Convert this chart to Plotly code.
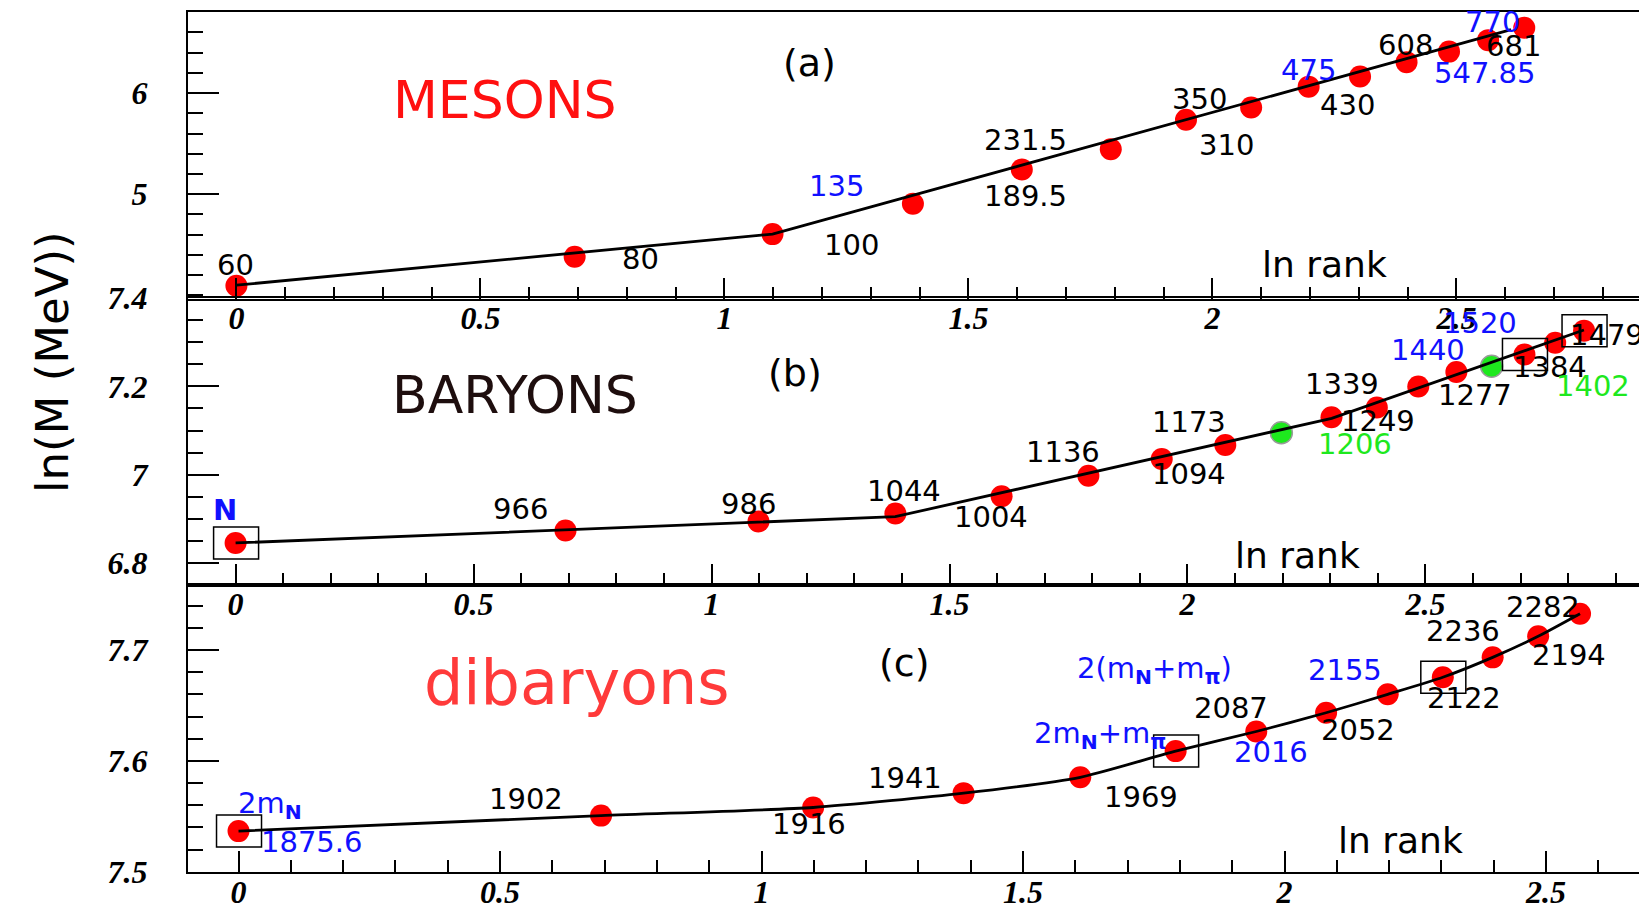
import numpy as np
import plotly.graph_objects as go

# ---------------- data ----------------
# (a) mesons: masses in MeV, ordered by rank
meson_mass = [60, 80, 100, 135, 189.5, 231.5, 310, 350, 430, 475, 547.85, 608, 681, 770]
meson_label = ["60", "80", "100", "135", "189.5", "231.5", "310", "350", "430", "475",
               "547.85", "608", "681", "770"]
meson_lcolor = ["k", "k", "k", "b", "k", "k", "k", "k", "k", "b", "b", "k", "k", "b"]
meson_dx = [-1, 66, 79, -76, 4, -85, 40, -52, 39, -52, 78, -44, 25, -32]
meson_dy = [-21, 2, 11, -18, 27, -9, 25, -8, 18, -7, 11, -7, 6, -6]
meson_fit_lnrank = [0.0, 1.0986, 2.612]
meson_fit_lnm = [4.10, 4.605, 6.627]

# (b) baryons
baryon_mass = [939, 966, 986, 1004, 1044, 1094, 1136, 1173, 1206, 1249, 1277, 1339,
               1384, 1402, 1440, 1479, 1520]
baryon_label = ["<b>N</b>", "966", "986", "1004", "1044", "1094", "1136", "1173", "1206",
                "1249", "1277", "1339", "1384", "1402", "1440", "1479", "1520"]
baryon_lcolor = ["b", "k", "k", "k", "k", "k", "k", "k", "g", "k", "k", "k", "k", "g",
                 "b", "k", "b"]
baryon_mcolor = ["r"] * 8 + ["g"] + ["r"] * 4 + ["g"] + ["r"] * 3
baryon_dx = [-11, -45, -10, 96, -98, 101, -99, -36, 74, 47, 98, -76, 94, 101, -96, 52, -104]
baryon_dy = [-33, -22, -18, 3, -5, -2, -7, -23, 11, 4, -12, -3, -5, 20, -4, -8, -8]
baryon_boxed = [0, 14, 16]
baryon_fit_lnrank = [0.0, 1.386, 2.303, 2.833]
baryon_fit_lnm = [6.845, 6.9046, 7.1277, 7.328]

# (c) dibaryons
dib_mass = [1875.6, 1902, 1916, 1941, 1969, 2016, 2052, 2087, 2122, 2155, 2194, 2236, 2282]
dib_label = ["1875.6", "1902", "1916", "1941", "1969", "2016", "2052", "2087", "2122",
             "2155", "2194", "2236", "2282"]
dib_lcolor = ["b", "k", "k", "k", "k", "b", "k", "k", "k", "b", "k", "k", "k"]
dib_dx = [73, -75, -4, -59, 61, 95, 102, -95, 76, -98, 76, -75, -37]
dib_dy = [11, -17, 17, -15, 20, 1, -2, -5, 4, -7, -2, -5, -7]
dib_boxed = [0, 5, 9]
dib_extra = [  # (rank index, text, dx, dy)
    (0, "2m<sub><b>N</b></sub>", 31, -26),
    (5, "2m<sub><b>N</b></sub>+m<sub><b>π</b></sub>", -76, -16),
    (9, "2(m<sub><b>N</b></sub>+m<sub><b>π</b></sub>)", -288, -7),
]

COL = {"k": "#000000", "b": "#1010ff", "g": "#1ee81e", "r": "#ff0000"}

# ---------------- layout geometry ----------------
# page is 1647x909; the html body has an 8 px margin, so the figure is offset by 8 px
PAGE_W, PAGE_H = 1647, 909
OFF = 8
W, H = PAGE_W - OFF, PAGE_H - OFF
XL = (188 - OFF) / W


def ydom(top_px, bot_px):
    return [1 - (bot_px - OFF) / H, 1 - (top_px - OFF) / H]


def P(px, py):
    return (px - OFF) / W, 1 - (py - OFF) / H


LABEL_FONT = "DejaVu Sans"
LSIZE = 29
TICK_FONT = dict(family="Liberation Serif", size=32, color="black", weight="bold", style="italic")

fig = go.Figure()
annotations = []
shapes = []


def add_panel(idx, masses, labels, lcolors, dx, dy, mcolors, boxed, fit_x, fit_y, spline=False):
    xa = "x" if idx == 1 else f"x{idx}"
    ya = "y" if idx == 1 else f"y{idx}"
    ranks = np.arange(1, len(masses) + 1)
    lx = np.log(ranks)
    ly = np.log(np.array(masses, dtype=float))
    mc = [COL[c] for c in mcolors]
    lc = ["#9a9a9a" if c == "g" else COL[c] for c in mcolors]
    fig.add_trace(go.Scatter(x=lx, y=ly, mode="markers", xaxis=xa, yaxis=ya,
                             marker=dict(size=22, color=mc,
                                         line=dict(color=lc, width=[1.5 if c == "g" else 0 for c in mcolors])),
                             hoverinfo="skip", showlegend=False, cliponaxis=False))
    if spline:
        fig.add_trace(go.Scatter(x=lx, y=ly, mode="lines", xaxis=xa, yaxis=ya,
                                 line=dict(color="black", width=2.8, shape="spline", smoothing=0.6),
                                 hoverinfo="skip", showlegend=False))
    else:
        fig.add_trace(go.Scatter(x=fit_x, y=fit_y, mode="lines", xaxis=xa, yaxis=ya,
                                 line=dict(color="black", width=2.8),
                                 hoverinfo="skip", showlegend=False))
    for i, t in enumerate(labels):
        annotations.append(dict(x=lx[i], y=ly[i], xref=xa, yref=ya, text=t, showarrow=False,
                                xanchor="center", yanchor="middle",
                                xshift=dx[i], yshift=-dy[i],
                                font=dict(family=LABEL_FONT, size=LSIZE, color=COL[lcolors[i]])))
    for i in boxed:
        shapes.append(dict(type="rect", xref=xa, yref=ya, xsizemode="pixel", ysizemode="pixel",
                           xanchor=lx[i], yanchor=ly[i], x0=-22, x1=23, y0=-16, y1=16,
                           line=dict(color="black", width=1.5), layer="above"))
    return lx, ly


add_panel(1, meson_mass, meson_label, meson_lcolor, meson_dx, meson_dy,
          ["r"] * len(meson_mass), [], meson_fit_lnrank, meson_fit_lnm)
add_panel(2, baryon_mass, baryon_label, baryon_lcolor, baryon_dx, baryon_dy,
          baryon_mcolor, baryon_boxed, baryon_fit_lnrank, baryon_fit_lnm)
dlx, dly = add_panel(3, dib_mass, dib_label, dib_lcolor, dib_dx, dib_dy,
                     ["r"] * len(dib_mass), dib_boxed, None, None, spline=True)
for i, t, ddx, ddy in dib_extra:
    annotations.append(dict(x=dlx[i], y=dly[i], xref="x3", yref="y3", text=t, showarrow=False,
                            xanchor="center", yanchor="middle",
                            xshift=ddx, yshift=-ddy,
                            font=dict(family=LABEL_FONT, size=LSIZE, color=COL["b"])))


def xaxis_cfg(anchor, rng):
    return dict(domain=[XL, 1], range=rng, anchor=anchor, showline=True, linecolor="black",
                linewidth=2, mirror=True, ticks="inside", ticklen=21, tickwidth=1.5,
                tickcolor="black", tick0=0, dtick=0.5,
                minor=dict(dtick=0.1, tick0=0, ticks="inside", ticklen=12, tickwidth=1.5,
                           tickcolor="black"),
                tickfont=TICK_FONT, ticklabelstandoff=-10,
                showgrid=False, zeroline=False, fixedrange=True,
                automargin=False, layer="above traces")


def yaxis_cfg(anchor, dom, rng, tickvals, minor_dt):
    return dict(domain=dom, range=rng, anchor=anchor, showline=True, linecolor="black",
                linewidth=2, mirror=False, ticks="inside", ticklen=31, tickwidth=1.5,
                tickcolor="black", tickmode="array", tickvals=tickvals,
                minor=dict(dtick=minor_dt, tick0=0, ticks="inside", ticklen=15, tickwidth=1.5,
                           tickcolor="black"),
                tickfont=TICK_FONT, ticklabelstandoff=32,
                showgrid=False, zeroline=False, fixedrange=True, automargin=False)


texts = [
    ("MESONS", 505, 100, 52, "#ff1010", 0),
    ("BARYONS", 515, 395, 52, "#1e0e0e", 0),
    ("dibaryons", 577, 682, 62, "#ff3a3a", 0),
    ("(a)", 809, 63, 38, "#000000", 0),
    ("(b)", 795, 373, 38, "#000000", 0),
    ("(c)", 904, 663, 38, "#000000", 0),
    ("ln rank", 1324, 265, 36, "#000000", 0),
    ("ln rank", 1297, 555, 36, "#000000", 0),
    ("ln rank", 1400, 840, 36, "#000000", 0),
    ("ln(M (MeV))", 52, 362, 45, "#000000", -90),
]
for t, px, py, sz, c, ang in texts:
    x, y = P(px, py)
    annotations.append(dict(x=x, y=y, xref="paper", yref="paper", text=t, showarrow=False,
                            xanchor="center", yanchor="middle",
                            textangle=ang, font=dict(family=LABEL_FONT, size=sz, color=c)))

fig.update_layout(
    template="none",
    width=W, height=H,
    margin=dict(l=0, r=0, t=0, b=0, pad=0),
    paper_bgcolor="white", plot_bgcolor="rgba(0,0,0,0)",
    showlegend=False,
    xaxis=xaxis_cfg("y", [-0.0992, 2.8906]),
    yaxis=yaxis_cfg("x", ydom(11.7, 299), [3.9634, 6.805], [5, 6], 0.2),
    xaxis2=xaxis_cfg("y2", [-0.100, 2.9655]),
    yaxis2=yaxis_cfg("x2", ydom(298, 585), [6.7497, 7.4005], [6.8, 7.0, 7.2, 7.4], 0.05),
    xaxis3=xaxis_cfg("y3", [-0.0966, 2.693]),
    yaxis3=yaxis_cfg("x3", ydom(585, 872.3), [7.4995, 7.7588], [7.5, 7.6, 7.7], 0.02),
    annotations=annotations,
    shapes=shapes,
)

fig.write_html("out.html")
